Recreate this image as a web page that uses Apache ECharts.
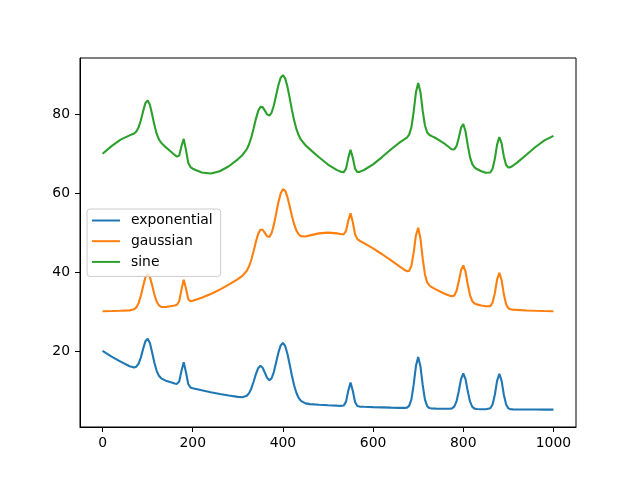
<!DOCTYPE html>
<html>
<head>
<meta charset="utf-8">
<script src="https://cdn.jsdelivr.net/npm/echarts@6/dist/echarts.min.js"></script>
<style>
  html, body { margin: 0; padding: 0; background: #fff; }
  #chart { width: 640px; height: 480px; }
</style>
</head>
<body>
<div id="chart"></div>
<script>
// x positions shared by all three curves
var xs = [0,20,40,60,70,75,80,85,90,95,
  100,105,110,115,120,125,130,140,150,160,
  165,170,175,180,185,190,195,200,220,240,
  260,280,300,310,320,325,330,335,340,345,
  350,355,360,365,370,375,380,385,390,395,
  400,405,410,415,420,425,430,435,440,450,
  460,480,500,520,530,535,540,545,550,555,
  560,565,570,580,600,620,640,660,670,675,
  680,685,690,695,700,705,710,715,720,725,
  730,740,760,770,775,780,785,790,795,800,
  805,810,815,820,825,830,840,850,860,865,
  870,875,880,885,890,895,900,905,910,920,
  940,960,980,1000];

var exponential = [20.00,18.57,17.28,16.12,15.79,15.99,16.77,18.36,20.52,22.45,
  23.10,22.00,19.61,16.99,14.95,13.71,13.05,12.46,12.09,11.74,
  11.64,12.22,14.89,17.10,14.59,11.61,10.73,10.52,10.00,9.52,
  9.09,8.70,8.35,8.25,8.62,9.30,10.48,12.18,14.07,15.61,
  16.22,15.73,14.46,13.16,12.54,13.07,14.70,17.10,19.55,21.38,
  22.03,21.26,19.28,16.56,13.71,11.22,9.33,8.07,7.32,6.69,
  6.51,6.36,6.23,6.11,6.07,6.17,7.14,9.93,11.96,9.88,
  7.04,6.03,5.88,5.83,5.75,5.68,5.61,5.55,5.54,5.61,
  6.07,7.73,11.43,16.16,18.45,16.14,11.38,7.66,5.98,5.50,
  5.40,5.37,5.34,5.34,5.43,5.86,7.19,9.78,12.84,14.27,
  12.83,9.75,7.14,5.81,5.36,5.26,5.22,5.22,5.45,6.41,
  8.88,12.40,14.20,12.40,8.87,6.39,5.42,5.20,5.16,5.15,
  5.14,5.13,5.11,5.10];

var gaussian = [30.08,30.12,30.18,30.28,30.55,31.04,32.12,33.99,36.43,38.64,
  39.57,38.74,36.63,34.29,32.53,31.56,31.17,31.13,31.31,31.53,
  31.72,32.59,35.55,38.05,35.85,33.17,32.60,32.71,33.50,34.45,
  35.56,36.82,38.22,39.04,40.33,41.47,43.12,45.29,47.65,49.67,
  50.74,50.73,49.92,49.08,48.92,49.90,51.98,54.82,57.70,59.95,
  61.01,60.65,59.06,56.71,54.22,52.08,50.52,49.58,49.12,49.03,
  49.31,49.82,50.00,49.82,49.61,49.60,50.43,53.07,54.92,52.65,
  49.59,48.35,47.95,47.35,46.01,44.52,42.94,41.32,40.53,40.23,
  40.31,41.59,44.92,49.29,51.22,48.56,43.46,39.40,37.39,36.59,
  36.18,35.56,34.45,33.98,33.85,34.06,35.18,37.58,40.45,41.71,
  40.09,36.85,34.10,32.61,32.03,31.80,31.53,31.31,31.37,32.25,
  34.63,38.08,39.81,37.94,34.36,31.83,30.82,30.55,30.48,30.40,
  30.27,30.18,30.12,30.08];

var sine = [70.00,71.95,73.59,74.67,75.15,75.67,76.72,78.51,80.82,82.85,
  83.55,82.44,79.99,77.28,75.10,73.67,72.80,71.68,70.71,69.71,
  69.28,69.53,71.89,73.79,70.99,67.75,66.63,66.22,65.24,65.02,
  65.58,66.84,68.60,69.65,71.17,72.42,74.16,76.39,78.80,80.83,
  81.90,81.84,80.95,79.99,79.67,80.46,82.30,84.85,87.41,89.30,
  89.95,89.13,87.05,84.19,81.14,78.42,76.25,74.69,73.58,72.17,
  71.12,69.13,67.28,65.86,65.40,65.36,66.23,68.97,71.00,68.98,
  66.23,65.37,65.41,65.89,67.32,69.17,71.16,72.96,73.71,74.12,
  74.87,76.77,80.67,85.56,87.95,85.70,80.94,77.17,75.40,74.77,
  74.49,73.94,72.43,71.53,71.15,71.10,71.93,74.03,76.61,77.56,
  75.65,72.13,69.10,67.37,66.56,66.13,65.56,65.19,65.27,66.21,
  68.72,72.32,74.26,72.64,69.34,67.14,66.50,66.62,66.97,67.83,
  69.75,71.72,73.41,74.56];

var names = ['exponential', 'gaussian', 'sine'];
var colors = ['#1f77b4', '#ff7f0e', '#2ca02c'];
var xTicks = [0, 200, 400, 600, 800, 1000];
var yTicks = [20, 40, 60, 80];

function pairs(ys) {
  return xs.map(function (x, i) { return [x, ys[i]]; });
}

var font = 'DejaVu Sans';
// thin bar as legend handle, the bare moves keep the box 28x14
var lineIcon = 'path://M0,0M0,6L28,6L28,8L0,8ZM28,14';

var myChart = echarts.init(document.getElementById('chart'), null, { renderer: 'canvas' });

var series = [exponential, gaussian, sine].map(function (ys, i) {
  return {
    name: names[i],
    type: 'line',
    data: pairs(ys),
    symbol: 'none',
    color: colors[i],
    lineStyle: { width: 2.1, color: colors[i] }
  };
});

var option = {
  animation: false,
  backgroundColor: '#fff',
  grid: {
    left: 80, right: 64, top: 58, bottom: 53,
    show: true, borderColor: '#000', borderWidth: 1
  },
  xAxis: {
    type: 'value',
    min: -50, max: 1050,
    axisLine: { show: true, onZero: false, lineStyle: { color: '#000', width: 1 } },
    axisTick: { show: true, length: 5, customValues: xTicks, lineStyle: { color: '#000', width: 1 } },
    axisLabel: {
      customValues: xTicks, color: '#000', fontFamily: font, fontSize: 13.9, margin: 9,
      formatter: function (v) { return String(v); }
    },
    splitLine: { show: false }
  },
  yAxis: {
    type: 'value',
    min: 0.7, max: 94.3,
    axisLine: { show: true, onZero: false, lineStyle: { color: '#000', width: 1 } },
    axisTick: { show: true, length: 5, customValues: yTicks, lineStyle: { color: '#000', width: 1 } },
    axisLabel: {
      customValues: yTicks, color: '#000', fontFamily: font, fontSize: 13.9, margin: 10,
      formatter: function (v) { return String(v); }
    },
    splitLine: { show: false }
  },
  legend: {
    data: names.map(function (n) { return { name: n, icon: lineIcon }; }),
    orient: 'vertical',
    left: 87, top: 209,
    itemWidth: 28, itemHeight: 14, itemGap: 6.7,
    padding: [4.5, 8, 7.5, 5],
    backgroundColor: 'rgba(255,255,255,0.8)',
    borderColor: '#cccccc', borderWidth: 1, borderRadius: 3,
    textStyle: { color: '#000', fontFamily: font, fontSize: 13.9, lineHeight: 14, padding: [0, 0, 0, 6] }
  },
  series: series
};
myChart.setOption(option);
</script>
</body>
</html>
